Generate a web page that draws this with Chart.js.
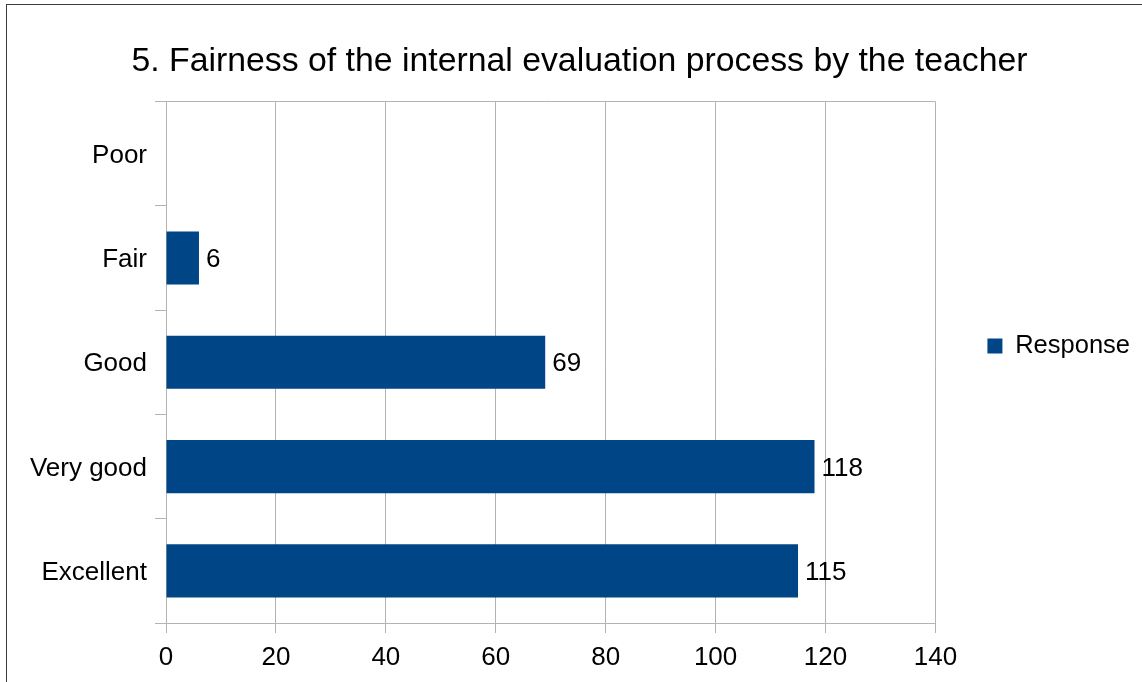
<!DOCTYPE html>
<html>
<head>
<meta charset="utf-8">
<script src="https://cdn.jsdelivr.net/npm/chart.js@4.4.1/dist/chart.umd.min.js"></script>
<style>
    html, body { margin: 0; padding: 0; background: #fff; width: 1142px; height: 682px; overflow: hidden; }
    #frame { position: absolute; left: 6px; top: 4px; width: 1300px; height: 800px; border-left: 1px solid #3c3c3c; border-top: 1px solid #3c3c3c; }
    #wrap { position: absolute; left: 0; top: 0; width: 1159px; height: 682px; }
</style>
</head>
<body>
<div id="frame"></div>
<div id="wrap"><canvas id="chart"></canvas></div>
<script>
const categories = ['Poor', 'Fair', 'Good', 'Very good', 'Excellent'];
const responses = [null, 6, 69, 118, 115];
const xMin = 0;
const xMax = 140;
const xStep = 20;

const FONT = '"Liberation Sans", Arial, sans-serif';
const GRID = '#b3b3b3';
const BAR = '#004586';

// value labels at the end of each bar
const valueLabels = {
    id: 'valueLabels',
    afterDatasetsDraw(chart) {
        const { ctx } = chart;
        const meta = chart.getDatasetMeta(0);
        ctx.save();
        ctx.font = '26px ' + FONT;
        ctx.fillStyle = '#000';
        ctx.textAlign = 'left';
        ctx.textBaseline = 'middle';
        meta.data.forEach((bar, i) => {
            const v = responses[i];
            if (v == null) return;
            ctx.fillText(String(v), bar.x + 7, bar.y + 2);
        });
        ctx.restore();
    }
};

new Chart(document.getElementById('chart'), {
    type: 'bar',
    data: {
        labels: categories,
        datasets: [{
            label: 'Response',
            data: responses,
            backgroundColor: BAR,
            borderWidth: 0,
            barPercentage: 0.51,
            categoryPercentage: 1
        }]
    },
    options: {
        indexAxis: 'y',
        responsive: true,
        maintainAspectRatio: false,
        animation: false,
        layout: { padding: { top: 10, right: 19, bottom: 0, left: 19 } },
        scales: {
            x: {
                min: xMin,
                max: xMax,
                ticks: { stepSize: xStep, color: '#000', font: { family: FONT, size: 26 }, padding: 9 },
                grid: { color: GRID, tickColor: GRID, tickLength: 10, lineWidth: 1 },
                border: { color: GRID },
                afterFit(scale) { scale.height = 59; }
            },
            y: {
                ticks: { color: '#000', font: { family: FONT, size: 26 }, padding: 8, labelOffset: 2 },
                grid: {
                    color: (c) => c.index === 0 ? GRID : 'rgba(0,0,0,0)',
                    tickColor: GRID,
                    tickLength: 11
                },
                border: { color: GRID },
                afterFit(scale) { scale.width = 147; }
            }
        },
        plugins: {
            title: {
                display: true,
                text: '5. Fairness of the internal evaluation process by the teacher',
                color: '#000',
                font: { family: FONT, size: 33.8, weight: 'normal' },
                padding: { top: 31, bottom: 20 }
            },
            legend: {
                position: 'right',
                labels: {
                    color: '#000',
                    font: { family: FONT, size: 25.5 },
                    boxWidth: 15,
                    boxHeight: 15,
                    padding: 52
                }
            },
            tooltip: { enabled: false }
        }
    },
    plugins: [valueLabels]
});
</script>
</body>
</html>
